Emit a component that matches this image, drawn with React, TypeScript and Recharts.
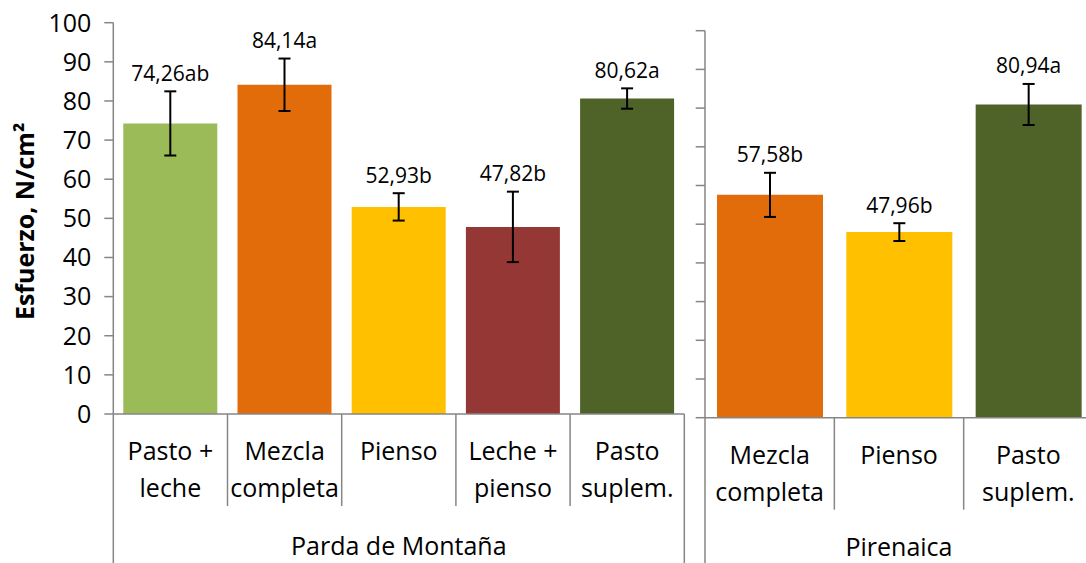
import React from 'react';
import { BarChart, Bar, XAxis, YAxis, ErrorBar, Cell, LabelList } from 'recharts';

// ---- data ----
const yTicks = [0, 10, 20, 30, 40, 50, 60, 70, 80, 90, 100];

const pardaGroup = 'Parda de Montaña';
const pardaCategories = ['Pasto +\nleche', 'Mezcla\ncompleta', 'Pienso', 'Leche +\npienso', 'Pasto\nsuplem.'];
const pardaValues = [74.26, 84.14, 52.93, 47.82, 80.62];
const pardaErrors = [8.2, 6.7, 3.5, 9.0, 2.6];
const pardaLabels = ['74,26ab', '84,14a', '52,93b', '47,82b', '80,62a'];

const pirenaicaGroup = 'Pirenaica';
const pirenaicaCategories = ['Mezcla\ncompleta', 'Pienso', 'Pasto\nsuplem.'];
const pirenaicaValues = [57.58, 47.96, 80.94];
const pirenaicaErrors = [5.7, 2.3, 5.3];
const pirenaicaLabels = ['57,58b', '47,96b', '80,94a'];

const yAxisTitle = 'Esfuerzo, N/cm²';

// ---- styles ----
const pardaColors = ['#9BBB59', '#E36C0A', '#FFC000', '#953735', '#4F6228'];
const pirenaicaColors = ['#E36C0A', '#FFC000', '#4F6228'];
const AXIS = '#868686';
const FONT = "'Open Sans', sans-serif";

const buildRows = (cats: string[], vals: number[], errs: number[], labels: string[]) =>
  cats.map((c, i) => ({ name: c, value: vals[i], err: errs[i], label: labels[i] }));

const pardaData = buildRows(pardaCategories, pardaValues, pardaErrors, pardaLabels);
const pirenaicaData = buildRows(pirenaicaCategories, pirenaicaValues, pirenaicaErrors, pirenaicaLabels);

const makeTick = (count: number, bandWidth: number) => (props: any) => {
  const { x, y, payload, index } = props;
  const left = x - bandWidth / 2;
  const right = x + bandWidth / 2;
  const lines = String(payload.value).split('\n');
  return (
    <g>
      <line x1={left} y1={y} x2={left} y2={index === 0 ? 570 : y + 92} stroke={AXIS} strokeWidth={1.5} />
      {index === count - 1 && (
        <line x1={right} y1={y} x2={right} y2={570} stroke={AXIS} strokeWidth={1.5} />
      )}
      {lines.map((t, i) => (
        <text key={i} x={x} y={y + 46 + i * 37} textAnchor="middle" fontSize={25} fill="#000" fontFamily={FONT}>
          {t}
        </text>
      ))}
    </g>
  );
};

const makeValueLabel = (vals: number[], errs: number[]) => (p: any) => {
  const { x, y, width, height, value, index } = p;
  const pxPer = Number(height) / vals[index];
  const errTop = Number(y) - errs[index] * pxPer;
  const cy = errTop - 18;
  return (
    <text x={Number(x) + Number(width) / 2} y={cy + 7.5} textAnchor="middle" fontSize={21} fill="#000" fontFamily={FONT}>
      {value}
    </text>
  );
};

const groupLabel = (text: string, dy: number) => (p: any) => {
  const vb = p.viewBox || {};
  return (
    <text x={vb.x + vb.width / 2} y={vb.y + dy} textAnchor="middle" fontSize={25} fill="#000" fontFamily={FONT}>
      {text}
    </text>
  );
};

const yTitle = (p: any) => {
  const vb = p.viewBox || {};
  const cy = vb.y + vb.height / 2 + 3;
  return (
    <text transform={`translate(34, ${cy}) rotate(-90)`} textAnchor="middle" fontSize={25} fontWeight="bold" fill="#000" fontFamily={FONT}>
      {yAxisTitle}
    </text>
  );
};

const emptyTick = () => <g />;

export default function App() {
  const leftW = 700;
  const leftPlot = 684.3 - 113.3;
  const rightW = 408;
  const rightPlot = rightW - 15 - 5;
  return (
    <div style={{ position: 'absolute', left: 0, top: 0, width: 1086, height: 563, overflow: 'hidden', background: '#fff', fontFamily: FONT }}>
      <div style={{ position: 'absolute', left: 0, top: 0 }}>
        <BarChart width={leftW} height={563} data={pardaData} margin={{ top: 22.7, right: leftW - 684.3, bottom: 0, left: 0 }}>
          <YAxis
            type="number"
            domain={[0, 100]}
            ticks={yTicks}
            interval={0}
            width={113.3}
            tickSize={9}
            tickMargin={13}
            axisLine={{ stroke: AXIS, strokeWidth: 1.5 }}
            tickLine={{ stroke: AXIS, strokeWidth: 1.5 }}
            tick={{ fontSize: 25, fill: '#000', fontFamily: FONT }}
            label={{ content: yTitle }}
          />
          <XAxis
            dataKey="name"
            height={563 - 414}
            interval={0}
            tickLine={false}
            tickSize={0}
            tickMargin={0}
            axisLine={{ stroke: AXIS, strokeWidth: 1.5 }}
            tick={makeTick(pardaCategories.length, leftPlot / pardaCategories.length)}
            label={{ content: groupLabel(pardaGroup, 140.5) }}
          />
          <Bar dataKey="value" barSize={94} isAnimationActive={false}>
            {pardaData.map((_, i) => (
              <Cell key={i} fill={pardaColors[i]} />
            ))}
            <ErrorBar dataKey="err" width={6} strokeWidth={2} stroke="#000" direction="y" isAnimationActive={false} />
            <LabelList dataKey="label" content={makeValueLabel(pardaValues, pardaErrors)} />
          </Bar>
        </BarChart>
      </div>
      <div style={{ position: 'absolute', left: 690, top: 0 }}>
        <BarChart width={rightW} height={563} data={pirenaicaData} margin={{ top: 30.7, right: 5, bottom: 0, left: 0 }}>
          <YAxis
            type="number"
            domain={[0, 100]}
            ticks={yTicks}
            interval={0}
            width={15}
            tickSize={9.3}
            axisLine={{ stroke: AXIS, strokeWidth: 1.5 }}
            tickLine={{ stroke: AXIS, strokeWidth: 1.5 }}
            tick={emptyTick}
          />
          <XAxis
            dataKey="name"
            height={563 - 417.7}
            interval={0}
            tickLine={false}
            tickSize={0}
            tickMargin={0}
            axisLine={{ stroke: AXIS, strokeWidth: 1.5 }}
            tick={makeTick(pirenaicaCategories.length, rightPlot / pirenaicaCategories.length)}
            label={{ content: groupLabel(pirenaicaGroup, 138.3) }}
          />
          <Bar dataKey="value" barSize={106} isAnimationActive={false}>
            {pirenaicaData.map((_, i) => (
              <Cell key={i} fill={pirenaicaColors[i]} />
            ))}
            <ErrorBar dataKey="err" width={6} strokeWidth={2} stroke="#000" direction="y" isAnimationActive={false} />
            <LabelList dataKey="label" content={makeValueLabel(pirenaicaValues, pirenaicaErrors)} />
          </Bar>
        </BarChart>
      </div>
    </div>
  );
}
